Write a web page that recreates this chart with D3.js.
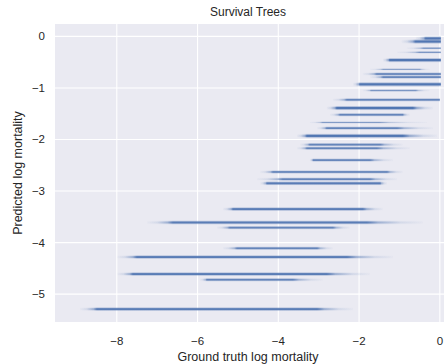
<!DOCTYPE html>
<html><head><meta charset="utf-8">
<script src="https://cdn.jsdelivr.net/npm/d3@7"></script>
<style>
html,body{margin:0;padding:0;background:#fff;}
svg{display:block;}
text{font-family:"Liberation Sans",Arial,"DejaVu Sans",sans-serif;fill:#262626;}
</style></head>
<body>
<svg id="chart" width="444" height="364"></svg>
<script>
// ---- data ----
const title = "Survival Trees";
const xLabel = "Ground truth log mortality";
const yLabel = "Predicted log mortality";
const xTicks = [-8, -6, -4, -2, 0];
const yTicks = [0, -1, -2, -3, -4, -5];
// each band = one predicted value (tree leaf); x spans of ground-truth values
const predicted = [-0.04, -0.10, -0.23, -0.31, -0.46, -0.64, -0.73, -0.79, -0.93, -1.05,
  -1.23, -1.39, -1.52, -1.67, -1.78, -1.93, -2.10, -2.17, -2.40, -2.63,
  -2.77, -2.85, -3.35, -3.61, -3.71, -4.11, -4.28, -4.61, -4.72, -5.29];
const truthMin = [-0.60, -0.95, -0.82, -1.06, -1.41, -1.73, -1.91, -1.73, -2.15, -1.91,
  -2.65, -2.80, -2.72, -3.22, -3.04, -3.54, -3.46, -3.54, -3.22, -4.45,
  -4.53, -4.45, -5.37, -7.25, -5.52, -5.37, -7.99, -7.99, -5.94, -8.91];
const denseMin = [-0.35, -0.60, -0.40, -0.50, -1.24, -1.40, -1.56, -1.40, -1.98, -1.70,
  -2.30, -2.55, -2.47, -2.90, -2.80, -3.29, -3.22, -3.29, -3.14, -4.13,
  -3.89, -4.28, -5.12, -6.61, -5.20, -5.02, -7.50, -7.60, -5.77, -8.49];
const denseMax = [0.00, 0.00, 0.00, 0.00, 0.00, -0.50, 0.00, 0.00, 0.00, -0.60,
  -0.42, -0.67, -0.92, -1.50, -1.06, -0.92, -1.48, -1.56, -1.73, -1.31,
  -1.73, -1.48, -1.91, -1.81, -2.65, -3.04, -2.30, -2.80, -3.64, -3.04];
const truthMax = [0.00, 0.00, 0.00, 0.00, 0.00, -0.25, 0.00, 0.00, 0.00, -0.25,
  0.00, -0.17, -0.74, -0.32, -0.17, -0.07, -0.92, -0.74, -1.16, -0.92,
  -1.06, -1.31, -1.41, -0.42, -2.23, -2.65, -1.16, -1.73, -2.90, -2.15];
const density = [3, 3, 1, 1, 3, 0.6, 2, 2, 3, 1,
  2, 3, 2, 0.7, 2, 3, 2, 2, 2, 2,
  2, 2.5, 2.5, 2.5, 2, 2, 2.5, 2.5, 2, 2.5];

const bands = predicted.map((p, i) => ({p, t0: truthMin[i], d0: denseMin[i], d1: denseMax[i], t1: truthMax[i], w: density[i]}));

// ---- layout ----
const svg = d3.select("#chart");
const L = 55, R = 458, T = 24, B = 322;
const x = d3.scaleLinear().domain([-9.53, 0.45]).range([L, R]);
const y = d3.scaleLinear().domain([-5.54, 0.24]).range([B, T]);
const color = "#4C72B0";

const defs = svg.append("defs");
defs.append("clipPath").attr("id", "plotclip")
  .append("rect").attr("x", L).attr("y", T).attr("width", R - L).attr("height", B - T);

svg.append("rect").attr("x", L).attr("y", T).attr("width", R - L).attr("height", B - T).attr("fill", "#EAEAF2");

const grid = svg.append("g");
grid.selectAll(".gx").data(xTicks).join("line")
  .attr("x1", d => x(d)).attr("x2", d => x(d)).attr("y1", T).attr("y2", B)
  .attr("stroke", "#fff").attr("stroke-width", 1.1);
grid.selectAll(".gy").data(yTicks).join("line")
  .attr("x1", L).attr("x2", R).attr("y1", d => y(d)).attr("y2", d => y(d))
  .attr("stroke", "#fff").attr("stroke-width", 1.1);

// gradients (fade of the point cloud toward its sparse ends)
bands.forEach((b, i) => {
  const x0 = x(b.t0), x1 = Math.max(x(b.t1), x(b.d1) + 1);
  const span = Math.max(x1 - x0, 1);
  const peak = Math.min(0.45 + 0.17 * b.w, 0.95);
  const openRight = b.t1 >= -0.01;
  const g = defs.append("linearGradient").attr("id", "g" + i)
    .attr("gradientUnits", "userSpaceOnUse")
    .attr("x1", x0).attr("x2", x1).attr("y1", 0).attr("y2", 0);
  const o0 = (x(b.d0) - x0) / span, o1 = Math.min((x(b.d1) - x0) / span, 1);
  const stops = [
    [0, 0.02], [o0 * 0.4, peak * 0.12], [o0 * 0.8, peak * 0.45], [o0, peak],
    [o1, peak],
    [o1 + (1 - o1) * 0.2, openRight ? peak : peak * 0.45],
    [o1 + (1 - o1) * 0.6, openRight ? peak : peak * 0.12],
    [1, openRight ? peak : 0.02]
  ];
  stops.forEach(s => g.append("stop").attr("offset", s[0]).attr("stop-color", color).attr("stop-opacity", s[1]));
});

const marks = svg.append("g").attr("clip-path", "url(#plotclip)");
const bx = d => x(d.t0), bw = d => Math.max(x(d.t1), x(d.d1) + 1) - x(d.t0);
// soft halo
marks.selectAll("rect.halo").data(bands).join("rect").attr("class", "halo")
  .attr("x", bx).attr("width", bw)
  .attr("y", d => y(d.p) - (1 + d.w * 1.0) / 2)
  .attr("height", d => 1 + d.w * 1.0)
  .attr("fill", (d, i) => `url(#g${i})`).attr("opacity", 0.35);
// dense core
marks.selectAll("rect.core").data(bands).join("rect").attr("class", "core")
  .attr("x", bx).attr("width", bw)
  .attr("y", d => y(d.p) - (0.8 + d.w * 0.45) / 2)
  .attr("height", d => 0.8 + d.w * 0.45)
  .attr("fill", (d, i) => `url(#g${i})`);

// tick labels
svg.append("g").selectAll("text").data(xTicks).join("text")
  .attr("x", d => x(d)).attr("y", 345).attr("text-anchor", "middle")
  .attr("font-size", 11.5).text(d => d < 0 ? "\u2212" + Math.abs(d) : d);
svg.append("g").selectAll("text").data(yTicks).join("text")
  .attr("x", 45).attr("y", d => y(d) + 4).attr("text-anchor", "end")
  .attr("font-size", 11.5).text(d => d < 0 ? "\u2212" + Math.abs(d) : d);

svg.append("text").attr("x", 248).attr("y", 16).attr("text-anchor", "middle")
  .attr("font-size", 12).text(title);
svg.append("text").attr("x", 248).attr("y", 361).attr("text-anchor", "middle")
  .attr("font-size", 12.5).text(xLabel);
svg.append("text").attr("transform", `translate(22,${(T + B) / 2}) rotate(-90)`)
  .attr("text-anchor", "middle").attr("font-size", 12.5).text(yLabel);
</script>
</body></html>
